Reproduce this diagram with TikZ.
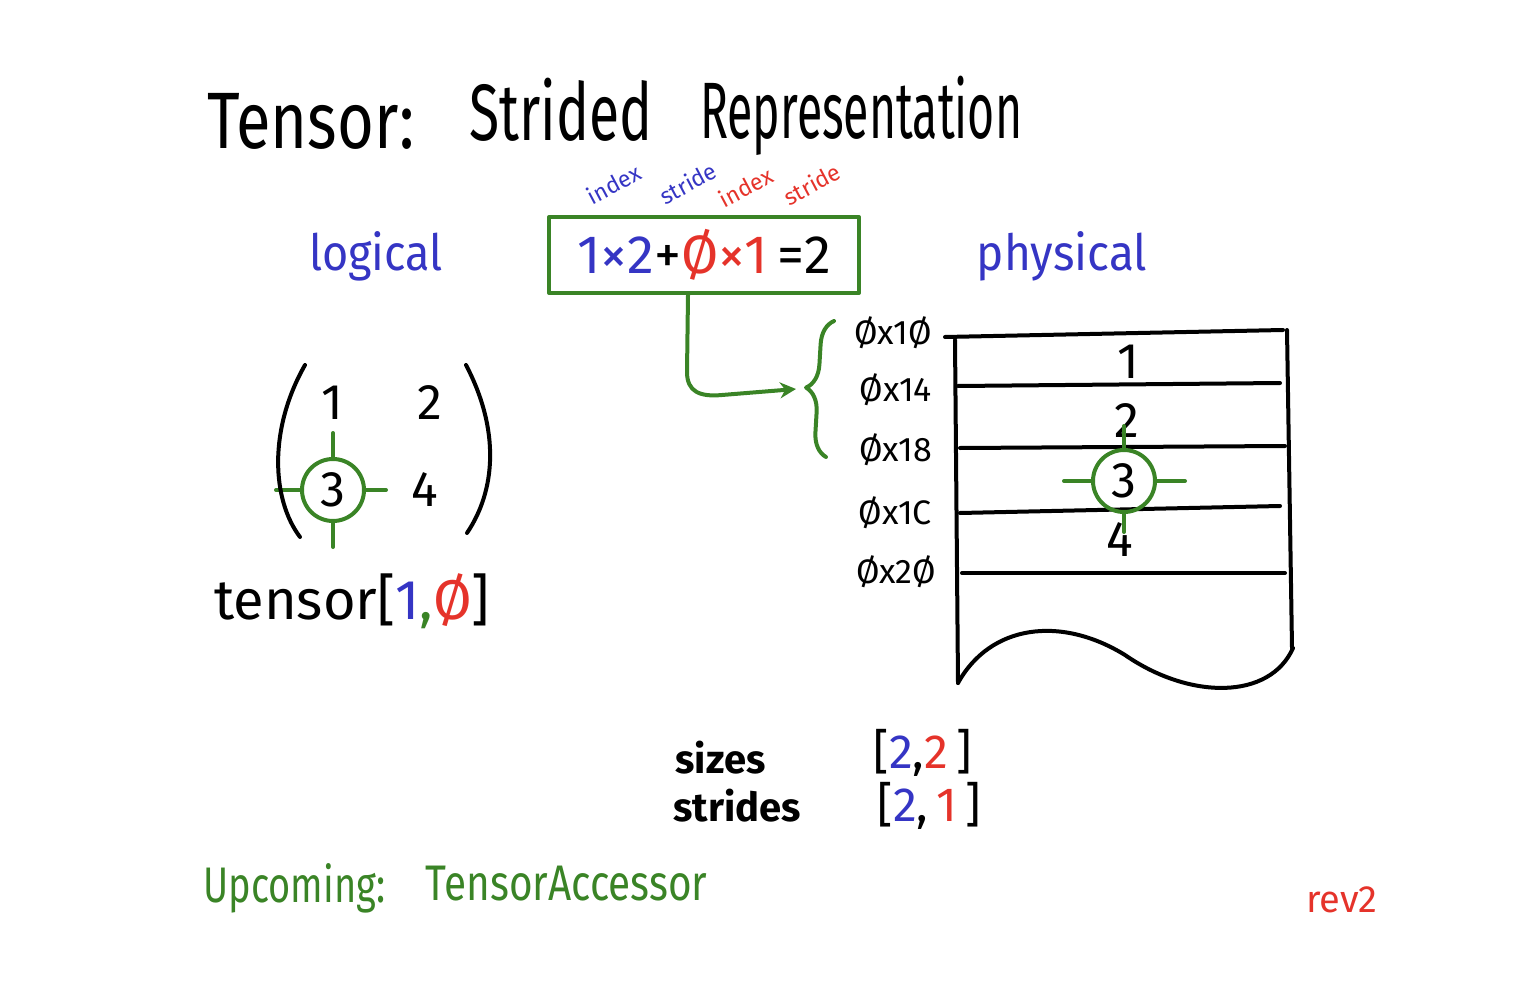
\documentclass[tikz,border=0pt]{standalone}
\usepackage{fontspec}
\usepackage{graphicx}
\setmainfont{Fira Sans}
\usetikzlibrary{arrows.meta, positioning, decorations.pathreplacing, calc}
\definecolor{tintaAzul}{HTML}{3535C4}
\definecolor{tintaRoja}{HTML}{E5332A}
\definecolor{tintaVerde}{HTML}{3A8426}
\newcommand{\tam}[1]{\fontsize{#1pt}{#1pt}\selectfont}
\newcommand{\narrow}[2]{\scalebox{#1}[1]{#2}}

\begin{document}
\begin{tikzpicture}[x=1pt, y=-1pt,
        ink/.style={line width=4pt, line cap=round, line join=round},
        pen/.style={ink, draw=black},
        gpen/.style={ink, draw=tintaVerde},
        big/.style={font=\tam{80}, anchor=base west, inner sep=0pt},
        lbl/.style={font=\tam{50}},
        addr/.style={font=\tam{34}, anchor=east, inner sep=0pt},
        cell/.style={font=\tam{50}, inner sep=0pt},
        note/.style={font=\tam{23}, rotate=28, inner sep=0pt},
        ring/.style={circle, gpen, minimum size=62pt, inner sep=0pt, font=\tam{50}}
    ]
        \useasboundingbox (0,0) rectangle (1520,984);

        % title
        \node[big] (titleA) at (207,149) {\narrow{0.79}{Tensor:}};
        \node[big] (titleB) at (469,141) {\narrow{0.69}{Strided}};
        \node[big] (titleC) at (700,139) {\narrow{0.58}{Representation}};

        \node[lbl, text=tintaAzul] (logical) at (376,256) {\narrow{0.9}{logical}};
        \node[lbl, text=tintaAzul] (physical) at (1062,256) {\narrow{0.92}{physical}};

        % the index formula
        \node[gpen, minimum width=310pt, minimum height=76pt, font=\tam{54}] (eq) at (704,255)
            {\textcolor{tintaAzul}{1×2}+\textcolor{tintaRoja}{Ø×1}\,=2};
        \node[note, text=tintaAzul] (idxA) at (614,184) {index};
        \node[note, text=tintaAzul] (strA) at (688,183) {stride};
        \node[note, text=tintaRoja] (idxB) at (746,187) {index};
        \node[note, text=tintaRoja] (strB) at (812,184) {stride};

        % logical view
        \node[cell] (m1) at (332,403) {1};
        \node[cell] (m2) at (430,403) {2};
        \node[ring] (m3) at (333,490) {3};
        \node[cell] (m4) at (425,490) {4};
        \draw[gpen] (m3.north) -- ++(0,-24);
        \draw[gpen] (m3.south) -- ++(0,24);
        \draw[gpen] (m3.west) -- ++(-24,0);
        \draw[gpen] (m3.east) -- ++(20,0);
        \draw[pen] (305,365) .. controls (268,430) and (272,500) .. (300,537);
        \draw[pen] (466,365) .. controls (500,430) and (496,490) .. (467,533);
        \node[font=\tam{56}] (access) at (352,601)
            {tensor[\textcolor{tintaAzul}{1}\textcolor{tintaVerde}{,}\textcolor{tintaRoja}{Ø}]};

        % physical memory
        \coordinate (memTL) at (955,340);
        \draw[pen] (945,337) -- (1283,330);
        \draw[pen] (memTL) -- (958,683);
        \draw[pen] (1287,330) -- (1292,648);
        \draw[pen] (958,386) -- (1280,383);
        \draw[pen] (960,448) -- (1285,446);
        \draw[pen] (960,513) -- (1280,506);
        \draw[pen] (962,573) -- (1285,573);
        \draw[pen] (958,683) .. controls (990,625) and (1060,615) .. (1125,655)
            .. controls (1190,700) and (1270,700) .. (1293,648);

        \node[addr] (a10) at (932,333) {Øx1Ø};
        \node[addr] (a14) at (932,390) {Øx14};
        \node[addr] (a18) at (932,450) {Øx18};
        \node[addr] (a1C) at (932,513) {Øx1C};
        \node[addr] (a20) at (936,572) {Øx2Ø};

        \node[cell] (p1) at (1128,362) {1};
        \node[cell] (p2) at (1127,421) {2};
        \node[ring] (p3) at (1124,481) {3};
        \node[cell] (p4) at (1120,540) {4};
        \draw[gpen] (p3.north) -- ++(0,-22);
        \draw[gpen] (p3.south) -- ++(0,18);
        \draw[gpen] (p3.west) -- ++(-27,0);
        \draw[gpen] (p3.east) -- ++(28,0);

        % arrow into the addresses
        \coordinate (braceTip) at (796,389);
        \draw[gpen, decorate, decoration={brace, amplitude=24pt, raise=0pt}]
            (826,457) -- (834,321);
        \draw[gpen, -{Stealth[length=16pt, width=16pt]}] ([xshift=-16pt]eq.south)
            -- (687,372) .. controls (687,392) and (700,397) .. (722,395) -- (braceTip);

        % metadata
        \node[font=\tam{40}\bfseries, anchor=west] (sizes) at (672,758) {sizes};
        \node[font=\tam{40}\bfseries, anchor=west] (strides) at (670,806) {strides};
        \node[font=\tam{48}, anchor=west] (sizesV) at (870,753)
            {[\textcolor{tintaAzul}{2},\textcolor{tintaRoja}{2}\,]};
        \node[font=\tam{48}, anchor=west] (stridesV) at (874,806)
            {[\textcolor{tintaAzul}{2},\,\textcolor{tintaRoja}{1}\,]};

        \node[font=\tam{50}, text=tintaVerde, anchor=west] (upcoming) at (200,888) {\narrow{0.76}{Upcoming:}};
        \node[font=\tam{50}, text=tintaVerde, anchor=west] (accessor) at (422,884) {\narrow{0.81}{TensorAccessor}};
        \node[font=\tam{38}, text=tintaRoja] (rev) at (1342,900) {rev2};
    \end{tikzpicture}
\end{document}
